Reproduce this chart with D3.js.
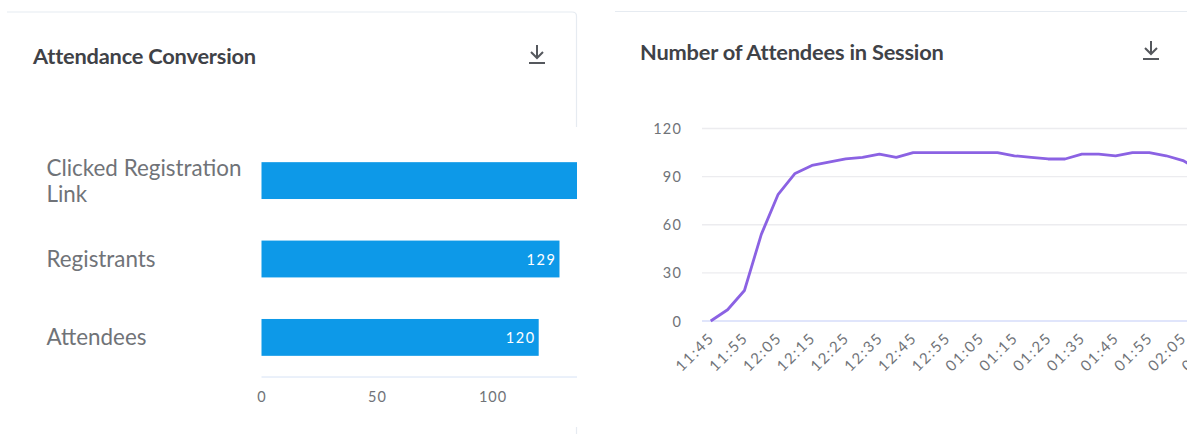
<!DOCTYPE html>
<html>
<head>
<meta charset="utf-8">
<script src="https://cdn.jsdelivr.net/npm/d3@7"></script>
<style>
  html, body { margin: 0; padding: 0; background: #fff; }
  svg { display: block; font-family: Lato, "Open Sans", sans-serif; }
  .domain { stroke: #d6e2f5; }
</style>
</head>
<body>
<svg id="board" width="1187" height="434"></svg>
<script>
// Funnel panel
const funnelCategories = [["Clicked Registration", "Link"], ["Registrants"], ["Attendees"]];
const funnelValues = [155, 129, 120];
const funnelTicks = [0, 50, 100, 150];

// Session panel, one reading every five minutes
const sessionTimes = ["11:45","11:50","11:55","12:00","12:05","12:10","12:15","12:20","12:25","12:30",
  "12:35","12:40","12:45","12:50","12:55","01:00","01:05","01:10","01:15","01:20","01:25","01:30",
  "01:35","01:40","01:45","01:50","01:55","02:00","02:05","02:10","02:15"];
const sessionValues = [0,7,19,54,79,92,97,99,101,102,104,102,105,105,105,105,105,105,103,102,101,101,
  104,104,103,105,105,103,100,94,88];
const sessionTicks = [0, 30, 60, 90, 120];

const svg = d3.select("#board");
const defs = svg.append("defs");
defs.append("clipPath").attr("id", "funnel-clip")
  .append("rect").attr("x", 0).attr("y", 0).attr("width", 577).attr("height", 434);

// Card outlines
const frame = svg.append("g").attr("fill", "none").attr("stroke", "#e6ebf1").attr("stroke-width", 1.2);
frame.append("path").attr("d", "M7,12H572Q576.5,12 576.5,16V127");
frame.append("path").attr("d", "M576.5,427V434");
frame.append("path").attr("d", "M615,11.5H1187");

function titleAndIcon(text, tx, ty, ix, iy) {
  svg.append("text").attr("x", tx).attr("y", ty)
    .attr("font-size", 21.8).attr("font-weight", 700).attr("fill", "#3f4247")
    .attr("letter-spacing", -0.2).text(text);
  const icon = svg.append("g").attr("transform", `translate(${ix},${iy})`)
    .attr("fill", "none").attr("stroke", "#55585d").attr("stroke-width", 2);
  icon.append("path").attr("d", "M0,0V13M-6,7L0,13L6,7");
  icon.append("path").attr("d", "M-8,18H8");
}
titleAndIcon("Attendance Conversion", 33, 64, 537, 45);
titleAndIcon("Number of Attendees in Session", 640, 60, 1151, 41);

// Horizontal bars
const fx = d3.scaleLinear().domain([0, 100]).range([261.5, 492.5]);
const fy = d3.scaleBand().domain(d3.range(funnelValues.length)).range([141, 377]).paddingInner(0.53).paddingOuter(0.27);
const funnel = svg.append("g").attr("clip-path", "url(#funnel-clip)");

funnel.selectAll("rect.bar").data(funnelValues).join("rect")
  .attr("class", "bar").attr("fill", "#0d99e8")
  .attr("x", fx(0)).attr("width", d => fx(d) - fx(0))
  .attr("y", (d, i) => fy(i)).attr("height", fy.bandwidth());

funnel.selectAll("text.value").data(funnelValues).join("text")
  .attr("class", "value").attr("fill", "#fff").attr("font-size", 14.5)
  .attr("letter-spacing", 1.6).attr("text-anchor", "end")
  .attr("x", d => fx(d) - 3).attr("y", (d, i) => fy(i) + fy.bandwidth() / 2 + 5.5)
  .text(d => d);

svg.selectAll("text.category").data(funnelCategories).join("text")
  .attr("class", "category").attr("fill", "#707378").attr("font-size", 22.4)
  .attr("y", (d, i) => fy(i) + fy.bandwidth() / 2 + 8 - (d.length - 1) * 13)
  .selectAll("tspan").data(d => d).join("tspan")
  .attr("x", 46.5).attr("dy", (d, i) => i ? 26 : 0).text(d => d);

const fAxis = funnel.append("g").attr("transform", "translate(0,377)")
  .call(d3.axisBottom(fx).tickValues(funnelTicks).tickSize(0).tickPadding(15));
fAxis.select(".domain").attr("d", `M${fx(0)},0H577`);
fAxis.selectAll("text").attr("font-family", "Lato").attr("font-size", 14.5)
  .attr("letter-spacing", 1).attr("fill", "#707378");

// Line panel
const sx = d3.scalePoint().domain(sessionTimes).range([710.7, 710.7 + 16.87 * (sessionTimes.length - 1)]);
const sy = d3.scaleLinear().domain([0, 120]).range([321, 128.5]);

const grid = svg.append("g");
grid.selectAll("line").data(sessionTicks).join("line")
  .attr("x1", 702).attr("x2", 1187)
  .attr("y1", d => sy(d)).attr("y2", d => sy(d))
  .attr("stroke", d => d === 0 ? "#d6dcfa" : "#ececef").attr("stroke-width", 1.3);

svg.append("g").selectAll("text").data(sessionTicks).join("text")
  .attr("x", 682).attr("y", d => sy(d) + 5.5).attr("text-anchor", "end")
  .attr("font-size", 14.5).attr("letter-spacing", 1.2).attr("fill", "#707378").text(d => d);

svg.append("path").datum(sessionValues)
  .attr("fill", "none").attr("stroke", "#8b62e3").attr("stroke-width", 2.8)
  .attr("stroke-linejoin", "round")
  .attr("d", d3.line().x((d, i) => sx(sessionTimes[i])).y(d => sy(d)));

svg.append("g").selectAll("text")
  .data(sessionTimes.filter((t, i) => i % 2 === 0)).join("text")
  .attr("transform", t => `translate(${sx(t) + 1},${335}) rotate(-45)`)
  .attr("text-anchor", "end").attr("dy", "0.35em")
  .attr("font-size", 15).attr("letter-spacing", 1.8).attr("fill", "#707378").text(t => t);
</script>
</body>
</html>
